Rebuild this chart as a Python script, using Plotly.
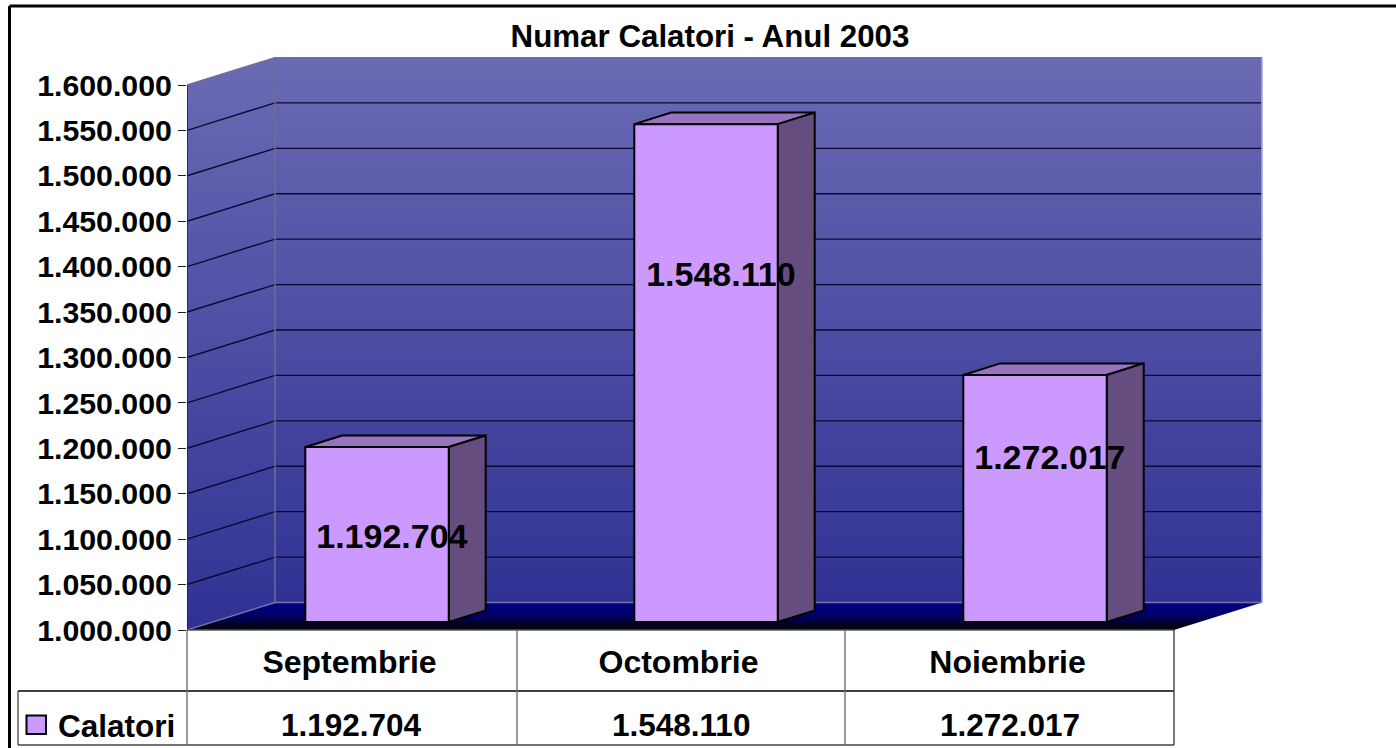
import plotly.graph_objects as go

# ---- data ----
title_text = "Numar Calatori - Anul 2003"
categories = ["Septembrie", "Octombrie", "Noiembrie"]
series_name = "Calatori"
calatori = [1192704, 1548110, 1272017]
y_ticks = [1000000, 1050000, 1100000, 1150000, 1200000, 1250000, 1300000,
           1350000, 1400000, 1450000, 1500000, 1550000, 1600000]
# value-axis heights at which the data labels sit
label_heights = [1099800, 1388300, 1186800]


def fmt(v):
    return f"{v:,}".replace(",", ".")


# ---- layout geometry (pixels of the page) ----
W, H = 1396, 748
PL, PR, PT, PB = 187, 1263, 57, 630          # plot area
CAT_PX = 329.0                               # width of one category on the front plane
VAL_PER_PX = 600000 / 545.0                  # value units per pixel
V0 = 1000000
YMAX = V0 + (PB - PT) * VAL_PER_PX
XMAX = (PR - PL) / CAT_PX
DX = 88.0 / CAT_PX                           # depth shift of one full depth unit
DV = 27.5 * VAL_PER_PX
BAR_D0, BAR_D1 = 0.29, 0.71                  # bar front/back depth
BAR_HALF = 0.218
FONT = "Liberation Sans"


def P(x, v, d=0.0):
    return x + d * DX, v + d * DV


def poly(points, fill=None, line="black", width=2.0, gradient=None, mode="lines", name=None):
    xs, ys = zip(*points)
    tr = dict(x=list(xs), y=list(ys), mode=mode, hoverinfo="skip", showlegend=False,
              line=dict(color=line, width=width))
    if fill or gradient:
        tr["fill"] = "toself"
        if fill:
            tr["fillcolor"] = fill
        if gradient:
            tr["fillgradient"] = gradient
    if name:
        tr["name"] = name
    return go.Scatter(**tr)


def vgrad(c_low, c_high, v_low, v_high):
    return dict(type="vertical", start=v_low, stop=v_high,
                colorscale=[[0, c_low], [1, c_high]])


def ppx(p):
    return (p - PL) / (PR - PL)


def ppy(p):
    return (PB - p) / (PB - PT)


def bold(size):
    return dict(family=FONT, size=size, color="black", weight="bold")


fig = go.Figure()
x_end = len(categories)
v_top = y_ticks[-1]
WALL_TOP, WALL_BOT = "#6a6ab4", "#313194"
EDGE = "#6f6f8f"

# back wall
fig.add_trace(poly([P(0, V0, 1), P(x_end, V0, 1), P(x_end, v_top, 1), P(0, v_top, 1), P(0, V0, 1)],
                   line="rgba(0,0,0,0)", width=0,
                   gradient=vgrad(WALL_BOT, WALL_TOP, V0 + DV, v_top + DV)))
# side wall
fig.add_trace(poly([P(0, V0, 0), P(0, V0, 1), P(0, v_top, 1), P(0, v_top, 0), P(0, V0, 0)],
                   line="rgba(0,0,0,0)", width=0,
                   gradient=vgrad(WALL_BOT, WALL_TOP, V0, v_top + DV)))
# floor
fig.add_trace(poly([P(0, V0, 0), P(0, V0, 1), P(x_end, V0, 1), P(x_end, V0, 0), P(0, V0, 0)],
                   line="rgba(0,0,0,0)", width=0,
                   gradient=dict(type="vertical", start=V0, stop=V0 + DV,
                                 colorscale=[[0, "#000000"], [0.6, "#000070"], [1, "#000080"]])))
# grid lines
for v in y_ticks[1:-1]:
    fig.add_trace(poly([P(0, v, 0), P(0, v, 1), P(x_end, v, 1)], line="#0a0a30", width=1.4))
# wall edges
fig.add_trace(poly([P(0, v_top, 0), P(0, v_top, 1), P(x_end, v_top, 1)], line=EDGE, width=1.2))
fig.add_trace(poly([P(0, V0, 0), P(0, V0, 1), P(x_end, V0, 1)], line="#7474a8", width=1.4))
fig.add_trace(poly([P(0, V0, 1), P(0, v_top, 1)], line=EDGE, width=1.4))
fig.add_trace(poly([P(x_end, V0, 1), P(x_end, v_top, 1)], line="#a5a5cf", width=1.6))
fig.add_trace(poly([P(0, V0, 0), P(0, v_top, 0)], line="#20204a", width=1.6))

# bars
for i, v in enumerate(calatori):
    x0, x1 = i + 0.5 - BAR_HALF, i + 0.5 + BAR_HALF
    fig.add_trace(poly([P(x0, v, BAR_D0), P(x1, v, BAR_D0), P(x1, v, BAR_D1), P(x0, v, BAR_D1), P(x0, v, BAR_D0)],
                       fill="#9973bf"))
    fig.add_trace(poly([P(x1, V0, BAR_D0), P(x1, V0, BAR_D1), P(x1, v, BAR_D1), P(x1, v, BAR_D0), P(x1, V0, BAR_D0)],
                       fill="#664d80"))
    fig.add_trace(poly([P(x0, V0, BAR_D0), P(x1, V0, BAR_D0), P(x1, v, BAR_D0), P(x0, v, BAR_D0), P(x0, V0, BAR_D0)],
                       fill="#cc99ff"))

# data labels
fig.add_trace(go.Scatter(
    x=[i + 0.5 + 0.5 * (BAR_D0 + BAR_D1) * DX - 0.011 for i in range(len(calatori))],
    y=label_heights, mode="text", text=[fmt(v) for v in calatori],
    textposition="middle center", cliponaxis=False, hoverinfo="skip", showlegend=False,
    textfont=bold(34)))

# table and frame lines
shapes = []


def seg(x0, y0, x1, y1, color="#555555", width=1.3):
    shapes.append(dict(type="line", xref="paper", yref="paper", x0=ppx(x0), x1=ppx(x1),
                       y0=ppy(y0), y1=ppy(y1), line=dict(color=color, width=width), layer="above"))


seg(9.5, 6, W, 6, "black", 3)
seg(9.5, 6, 9.5, H, "black", 3)
seg(187, 630, 1174, 630, "#555555", 1.3)
seg(18, 691, 1174, 691, "black", 1.3)
seg(18, 745, 1174, 745, "#444444", 1.3)
seg(18, 691, 18, 745, "#444444", 1.3)
seg(187, 630, 187, 745, "#666666", 1.3)
seg(517, 630, 517, 745, "#666666", 1.3)
seg(845, 630, 845, 745, "#666666", 1.3)
seg(1174, 630, 1174, 745, "#333333", 1.3)
# legend key
shapes.append(dict(type="rect", xref="paper", yref="paper", x0=ppx(26.5), x1=ppx(46), y0=ppy(715.5), y1=ppy(734),
                   fillcolor="#cc99ff", line=dict(color="black", width=2), layer="above"))

annotations = [dict(x=i + 0.5, xref="x", y=ppy(724.5), yref="paper", text=fmt(v), showarrow=False,
                    xanchor="center", yanchor="middle", font=bold(31.5))
               for i, v in enumerate(calatori)]
annotations.append(dict(x=ppx(56), xref="paper", y=ppy(726), yref="paper", text=series_name, showarrow=False,
                        xanchor="left", yanchor="middle", font=bold(31.5)))

fig.update_layout(
    width=W, height=H, autosize=False,
    margin=dict(l=PL, r=W - PR, t=PT, b=H - PB, pad=0),
    paper_bgcolor="white", plot_bgcolor="rgba(0,0,0,0)",
    title=dict(text=title_text, x=ppx(710), xref="paper", xanchor="center",
               y=1 - 36 / H, yref="container", yanchor="middle", font=bold(31.3)),
    xaxis=dict(range=[0, XMAX], tickmode="array", tickvals=[i + 0.5 - 0.006 for i in range(len(categories))],
               ticktext=categories, showgrid=False, zeroline=False, showline=False,
               ticks="outside", ticklen=4, tickcolor="rgba(0,0,0,0)", tickfont=bold(32)),
    yaxis=dict(range=[V0, YMAX], tickmode="array", tickvals=y_ticks,
               ticktext=[fmt(v) for v in y_ticks], showgrid=False, zeroline=False, showline=False,
               ticks="outside", ticklen=8, tickwidth=1.2, tickcolor="#222222", tickfont=bold(30.3)),
    showlegend=False,
    shapes=shapes, annotations=annotations,
)

fig.write_html("out.html", config=dict(displayModeBar=False),
               post_script="document.body.style.margin='0';document.body.style.overflow='hidden';")
